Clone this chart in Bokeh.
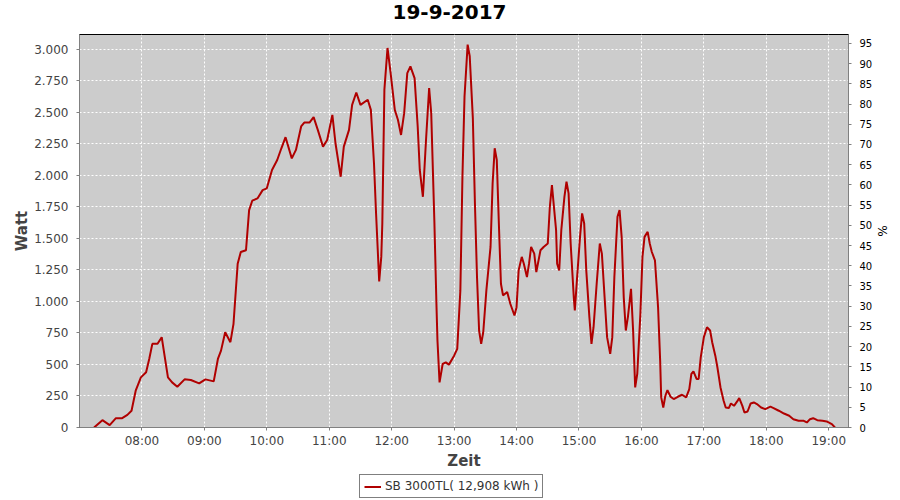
import pandas as pd
from bokeh.plotting import figure
from bokeh.layouts import column
from bokeh.models import (Range1d, LinearAxis, FixedTicker, DatetimeTickFormatter,
                          CustomJSTickFormatter, Legend, LegendItem, ColumnDataSource)
from bokeh.embed import file_html
from bokeh.resources import INLINE

DATE = "2017-09-19"
TITLE = "19-9-2017"
SERIES_NAME = "SB 3000TL( 12,908 kWh )"

times = ["07:14", "07:22", "07:29", "07:35", "07:41", "07:46", "07:50", "07:54", "07:59",
         "08:04", "08:07", "08:10", "08:15", "08:19", "08:21", "08:25", "08:29", "08:34",
         "08:41", "08:47", "08:55", "09:01", "09:09", "09:13", "09:16", "09:20", "09:25",
         "09:28", "09:32", "09:35", "09:40", "09:43", "09:46", "09:51", "09:56", "10:00",
         "10:05", "10:10", "10:14", "10:18", "10:24", "10:28", "10:33", "10:36", "10:41",
         "10:45", "10:49", "10:54", "10:58", "11:03", "11:06", "11:11", "11:14", "11:19",
         "11:22", "11:26", "11:30", "11:37", "11:40", "11:43", "11:45", "11:48", "11:50",
         "11:51", "11:53", "11:56", "11:59", "12:03", "12:06", "12:09", "12:12", "12:15",
         "12:18", "12:22", "12:25", "12:27", "12:30", "12:33", "12:36", "12:38", "12:41",
         "12:43", "12:44", "12:46", "12:49", "12:52", "12:55", "13:00", "13:03", "13:06",
         "13:08", "13:10", "13:13", "13:15", "13:18", "13:20", "13:22", "13:24", "13:26",
         "13:28", "13:31", "13:35", "13:37", "13:39", "13:41", "13:43", "13:45", "13:47",
         "13:51", "13:54", "13:58", "14:00", "14:02", "14:05", "14:07", "14:10", "14:12",
         "14:14", "14:17", "14:19", "14:23", "14:26", "14:30", "14:32", "14:34", "14:38",
         "14:39", "14:41", "14:43", "14:46", "14:48", "14:50", "14:52", "14:55", "14:56",
         "14:58", "15:01", "15:03", "15:05", "15:07", "15:10", "15:12", "15:14", "15:17",
         "15:20", "15:22", "15:25", "15:27", "15:30", "15:32", "15:34", "15:37", "15:39",
         "15:41", "15:43", "15:45", "15:47", "15:50", "15:52", "15:54", "15:56", "15:59",
         "16:01", "16:03", "16:06", "16:08", "16:10", "16:13", "16:16", "16:18", "16:19",
         "16:21", "16:23", "16:25", "16:28", "16:31", "16:35", "16:39", "16:43", "16:46",
         "16:48", "16:50", "16:53", "16:55", "16:57", "17:00", "17:03", "17:06", "17:08",
         "17:11", "17:13", "17:16", "17:19", "17:21", "17:24", "17:26", "17:29", "17:32",
         "17:34", "17:37", "17:39", "17:42", "17:45", "17:48", "17:51", "17:55", "17:59",
         "18:04", "18:07", "18:12", "18:17", "18:22", "18:26", "18:31", "18:36", "18:39",
         "18:42", "18:45", "18:49", "18:54", "18:58", "19:03", "19:06"]

watts = [0, 58, 19, 74, 74, 100, 133, 292, 398,
         438, 544, 664, 664, 717, 610, 398, 358, 324,
         382, 377, 350, 382, 366, 544, 610, 756, 677,
         823, 1300, 1393, 1407, 1725, 1800, 1818, 1884, 1898,
         2044, 2123, 2216, 2304, 2136, 2203, 2389, 2420, 2420,
         2463, 2362, 2229, 2282, 2481, 2256, 1990, 2229, 2362,
         2561, 2659, 2561, 2601, 2521, 2097, 1699, 1160, 1354,
         1619, 2681, 3012, 2813, 2521, 2442, 2322, 2495, 2813,
         2866, 2773, 2389, 2044, 1831, 2282, 2694, 2495, 1645,
         982, 690, 358, 504, 517, 499, 570, 624, 1088,
         1990, 2627, 3039, 2946, 2455, 1778, 1194, 770, 664,
         756, 1088, 1433, 1937, 2216, 2123, 1619, 1141, 1048,
         1075, 982, 889, 955, 1247, 1354, 1300, 1194, 1300,
         1433, 1380, 1234, 1407, 1433, 1460, 1752, 1924, 1566,
         1300, 1247, 1566, 1831, 1951, 1858, 1460, 1035, 929,
         1168, 1513, 1699, 1619, 1247, 876, 664, 796, 1141,
         1460, 1380, 982, 717, 584, 717, 1194, 1672, 1725,
         1513, 1035, 770, 876, 1101, 770, 318, 425, 902,
         1354, 1513, 1553, 1460, 1393, 1327, 955, 531, 239,
         159, 252, 297, 244, 226, 244, 260, 239, 305,
         425, 446, 385, 385, 557, 717, 796, 770, 677,
         570, 478, 318, 212, 159, 154, 191, 172, 207,
         233, 172, 119, 127, 191, 199, 186, 159, 146,
         165, 154, 133, 111, 93, 66, 53, 53, 40,
         66, 74, 58, 53, 48, 27, 0]

x_tick_labels = ["08:00", "09:00", "10:00", "11:00", "12:00", "13:00",
                 "14:00", "15:00", "16:00", "17:00", "18:00", "19:00"]
watt_ticks = [0, 250, 500, 750, 1000, 1250, 1500, 1750, 2000, 2250, 2500, 2750, 3000]
pct_ticks = [0, 5, 10, 15, 20, 25, 30, 35, 40, 45, 50, 55, 60, 65, 70, 75, 80, 85, 90, 95]

x_start, x_end = "07:00", "19:19"
watt_max = 3119
pct_max = 97.2

FONT = "DejaVu Sans"
LINE_COLOR = "#b00000"


def ts(hhmm):
    return pd.Timestamp(f"{DATE} {hhmm}")


src = ColumnDataSource(data=dict(t=[ts(s) for s in times], w=watts))

# ---------------- title strip ----------------
title_fig = figure(width=900, height=30, toolbar_location=None, output_backend="svg",
                   x_axis_location=None, y_axis_location=None,
                   min_border_left=0, min_border_right=0, min_border_top=0, min_border_bottom=0)
title_fig.outline_line_color = None
title_fig.background_fill_color = "white"
title_fig.border_fill_color = "white"
title_fig.grid.visible = False
title_fig.title.text = TITLE
title_fig.title.align = "left"
title_fig.title.offset = 313
title_fig.title.vertical_align = "middle"
title_fig.title.standoff = 6
title_fig.title.text_font = FONT
title_fig.title.text_font_size = "20px"
title_fig.title.text_font_style = "bold"
title_fig.title.text_color = "black"

# ---------------- main chart ----------------
p = figure(frame_width=769, frame_height=393, x_axis_type="datetime",
           x_range=Range1d(ts(x_start), ts(x_end)),
           y_range=Range1d(0, watt_max),
           output_backend="svg", toolbar_location=None,
           min_border_left=79, min_border_right=52, min_border_top=4, min_border_bottom=47)
p.extra_y_ranges = {"pct": Range1d(0, pct_max)}

p.background_fill_color = "#cccccc"
p.border_fill_color = "white"
p.outline_line_color = "black"
p.outline_line_width = 1

r = p.line("t", "w", source=src, line_color=LINE_COLOR, line_width=2)

xa = p.xaxis[0]
xa.ticker = FixedTicker(ticks=[ts(s).value / 1e6 for s in x_tick_labels])
xa.formatter = DatetimeTickFormatter(minutes="%H:%M", hourmin="%H:%M", hours="%H:%M",
                                     days="%H:%M", minsec="%H:%M", seconds="%H:%M")
xa.axis_label = "Zeit"

ya = p.yaxis[0]
ya.ticker = FixedTicker(ticks=watt_ticks)
ya.formatter = CustomJSTickFormatter(
    code="return String(Math.round(tick)).replace(/\\B(?=(\\d{3})+(?!\\d))/g, '.');")
ya.axis_label = "Watt"

for ax in (xa, ya):
    ax.axis_line_color = "#808080"
    ax.major_tick_line_color = "#808080"
    ax.major_tick_out = 3
    ax.major_tick_in = 0
    ax.minor_tick_line_color = None
    ax.major_label_text_font = FONT
    ax.major_label_text_font_size = "12px"
    ax.major_label_text_color = "#444444"
    ax.axis_label_text_font = FONT
    ax.axis_label_text_font_size = "15px"
    ax.axis_label_text_font_style = "bold"
    ax.axis_label_text_color = "#444444"

xa.major_label_standoff = 3
xa.axis_label_standoff = 1
ya.major_label_standoff = 8
ya.axis_label_standoff = 0

ra = LinearAxis(y_range_name="pct", ticker=FixedTicker(ticks=pct_ticks), axis_label="%")
ra.axis_line_color = "#808080"
ra.major_tick_line_color = "#808080"
ra.major_tick_out = 3
ra.major_tick_in = 0
ra.minor_tick_line_color = None
ra.major_label_text_font = FONT
ra.major_label_text_font_size = "10px"
ra.major_label_text_color = "black"
ra.axis_label_text_font = FONT
ra.axis_label_text_font_size = "12px"
ra.axis_label_text_font_style = "normal"
ra.axis_label_text_color = "black"
ra.major_label_standoff = 8
ra.axis_label_standoff = 0
p.add_layout(ra, "right")

for g in (p.xgrid[0], p.ygrid[0]):
    g.grid_line_color = "white"
    g.grid_line_dash = "2 2"
    g.grid_line_width = 1
p.ygrid[0].ticker = FixedTicker(ticks=watt_ticks)

# ---------------- legend strip ----------------
# The strip shows only the legend; its ranges keep the series itself out of view.
leg_fig = figure(width=900, height=26, toolbar_location=None, output_backend="svg",
                 x_range=Range1d(0, 1), y_range=Range1d(0, 1),
                 x_axis_location=None, y_axis_location=None,
                 min_border_left=0, min_border_right=0, min_border_top=0, min_border_bottom=0)
leg_fig.outline_line_color = None
leg_fig.background_fill_color = "white"
leg_fig.border_fill_color = "white"
leg_fig.grid.visible = False
leg_r = leg_fig.line("t", "w", source=src, line_color=LINE_COLOR, line_width=2)

legend = Legend(items=[LegendItem(label=SERIES_NAME, renderers=[leg_r])],
                location=(280, 2), orientation="horizontal")
legend.border_line_color = "black"
legend.border_line_width = 1
legend.background_fill_color = "white"
legend.background_fill_alpha = 1
legend.label_text_font = FONT
legend.label_text_font_size = "12px"
legend.label_text_color = "#333333"
legend.glyph_width = 17
legend.glyph_height = 13
legend.label_height = 13
legend.label_standoff = 4
legend.padding = 4
legend.spacing = 0
legend.margin = 0
leg_fig.add_layout(legend, "center")

layout = column(title_fig, p, leg_fig, spacing=0)

open("out.html", "w").write(file_html(layout, INLINE))
